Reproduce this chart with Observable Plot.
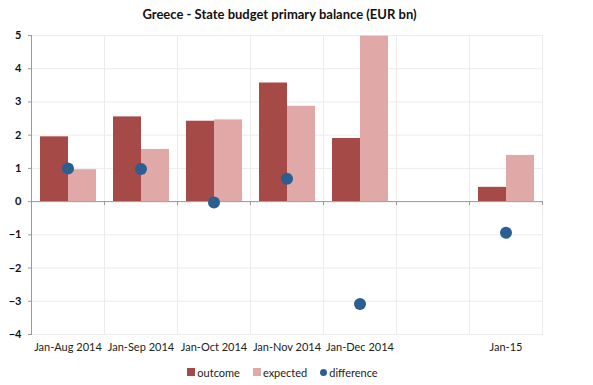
<!DOCTYPE html>
<html>
<head>
<meta charset="utf-8">
<script src="https://cdn.jsdelivr.net/npm/d3@7"></script>
<script src="https://cdn.jsdelivr.net/npm/@observablehq/plot@0.6"></script>
<style>
  body { margin: 0; background: #fff; font-family: Lato, "Open Sans", sans-serif; }
  #title { width: 559px; height: 28px; line-height: 28px; text-align: center; font-weight: bold; font-size: 13px; color: #111; }
  #legend { width: 565px; height: 16px; display: flex; justify-content: center; align-items: center; gap: 13px; font-size: 11px; color: #222; }
  .item { display: flex; align-items: center; gap: 2px; }
  .sw { width: 8px; height: 8px; display: inline-block; }
  .sw.dot { width: 7px; height: 7px; border-radius: 50%; }
</style>
</head>
<body>
<div id="title">Greece - State budget primary balance (EUR bn)</div>
<div id="chart"></div>
<div id="legend"></div>
<script>
const categories = ["Jan-Aug 2014", "Jan-Sep 2014", "Jan-Oct 2014", "Jan-Nov 2014", "Jan-Dec 2014", " ", "Jan-15"];
const outcome    = [1.95, 2.55, 2.42, 3.57, 1.90, null, 0.43];
const expected   = [0.96, 1.57, 2.46, 2.87, 4.98, null, 1.39];
const difference = [1.00, 0.98, -0.03, 0.69, -3.08, null, -0.94];
const barSeries = ["outcome", "expected"];
const dotSeries = "difference";
const yTicks = [-4, -3, -2, -1, 0, 1, 2, 3, 4, 5];
const colors = { outcome: "#A64A48", expected: "#E0A8A7", difference: "#2B5F91" };

const table = categories.flatMap((c, i) => [
  { category: c, series: "outcome", value: outcome[i] },
  { category: c, series: "expected", value: expected[i] }
]);
const diffs = categories.map((c, i) => ({ category: c, value: difference[i] }));

const chart = Plot.plot({
  width: 593,
  height: 336,
  marginTop: 7,
  marginBottom: 30,
  marginLeft: 31,
  marginRight: 51,
  style: { fontFamily: "Lato, 'Open Sans', sans-serif", fontSize: "11px", color: "#222", background: "#fff" },
  fx: { domain: categories, padding: 0, label: null, axis: "bottom", tickSize: 0, tickPadding: 9 },
  x: { domain: barSeries, paddingInner: 0, paddingOuter: 0.26, axis: null },
  y: { domain: [-4, 5], label: null, axis: null },
  color: { domain: barSeries, range: barSeries.map(s => colors[s]) },
  marks: [
    Plot.gridY(yTicks, { stroke: "#ececec", strokeOpacity: 1 }),
    Plot.frame({ stroke: "#ececec" }),
    Plot.barY(table, { fx: "category", x: "series", y: "value", fill: "series" }),
    Plot.ruleY([0], { stroke: "#9a9a9a" }),
    Plot.frame({ anchor: "left", stroke: "#9a9a9a", insetTop: 166, insetBottom: 130 }),
    Plot.frame({ anchor: "right", stroke: "#9a9a9a", insetTop: 166, insetBottom: 130, facetAnchor: "right" }),
    Plot.frame({ anchor: "left", stroke: "#9a9a9a", facetAnchor: "left" }),
    Plot.axisY(yTicks, { tickSize: 3, tickPadding: 7, stroke: "#9a9a9a", fill: "#111", fontWeight: "bold", label: null, facetAnchor: "left" }),
    Plot.dot(diffs, { fx: "category", y: "value", r: 6, fill: colors.difference })
  ]
});
document.getElementById("chart").appendChild(chart);

const legend = document.getElementById("legend");
[...barSeries, dotSeries].forEach(s => {
  const item = document.createElement("span");
  item.className = "item";
  const sw = document.createElement("span");
  sw.className = "sw" + (s === dotSeries ? " dot" : "");
  sw.style.background = colors[s];
  const t = document.createElement("span");
  t.textContent = s;
  item.appendChild(sw);
  item.appendChild(t);
  legend.appendChild(item);
});
</script>
</body>
</html>
